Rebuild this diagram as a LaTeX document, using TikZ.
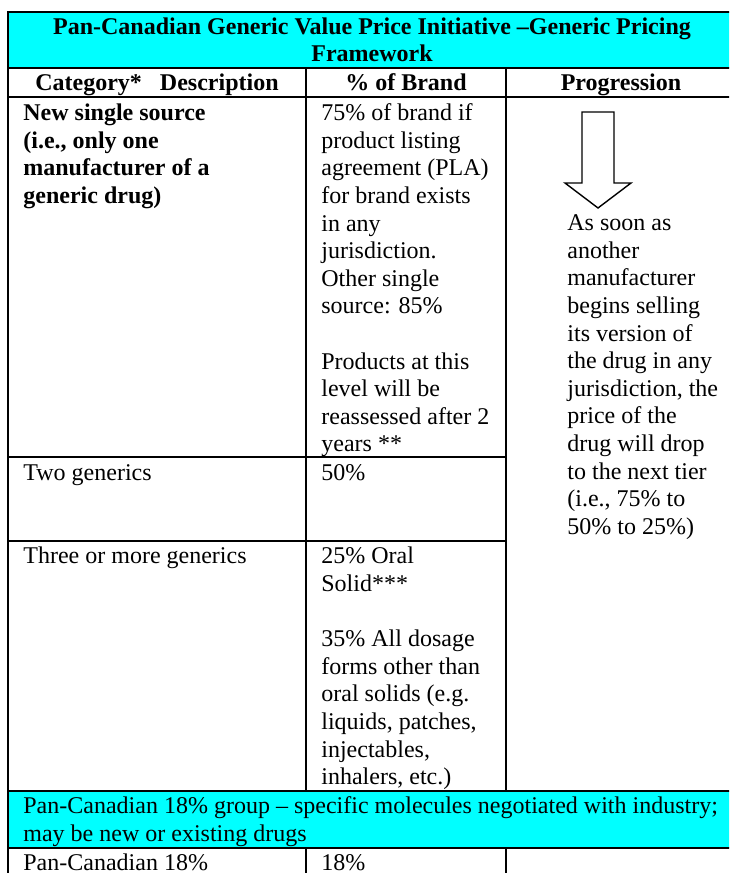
\documentclass[tikz,border=0pt]{standalone}
\usepackage{fontspec}
\setmainfont{Liberation Serif}
\definecolor{hdrcyan}{RGB}{0,255,255}
\tikzset{
  rule/.style={line width=1.2pt, line cap=rect},
  celltxt/.style={anchor=base west, inner sep=0pt, align=left,
    font=\fontsize{12}{13.8}\selectfont},
  boldtxt/.style={celltxt, font=\fontsize{12}{13.8}\selectfont\bfseries},
  headtxt/.style={anchor=base, inner sep=0pt, align=center,
    font=\fontsize{12}{13.8}\selectfont\bfseries},
  blockarrow/.style={draw, line width=0.7pt, line join=miter}
}

\begin{document}
\begin{tikzpicture}[x=0.5pt, y=-0.5pt]
  \clip (0,0) rectangle (729,873);
  % cyan bands
  \fill[hdrcyan] (8,12) rectangle (736,68);
  \fill[hdrcyan] (8,791) rectangle (736,848);
  % title and headers (multi-line nodes sit on their last baseline)
  \node[headtxt] (title) at (372,61.6) {Pan-Canadian Generic Value Price Initiative –Generic Pricing\\Framework};
  \node[headtxt] (hdrcat) at (157,90) {Category*\ \ \ Description};
  \node[headtxt] (hdrpct) at (406,90) {\% of Brand};
  \node[headtxt] (hdrprog) at (621,90) {Progression};
  % single source row
  \node[boldtxt] (newsrc) at (23,203.5) {New single source\\(i.e., only one\\manufacturer of a\\generic drug)};
  \node[celltxt] (newpct) at (321,451.9) {75\% of brand if\\product listing\\agreement (PLA)\\for brand exists\\in any\\jurisdiction.\\Other single\\source: 85\%\\[13.8pt]Products at this\\level will be\\reassessed after 2\\years **};
  % progression column
  \draw[blockarrow] (582,112) -- (614,112) -- (614,183) -- (631,183)
    -- (598,208) -- (565,183) -- (582,183) -- cycle;
  \node[celltxt] (progtxt) at (567,534.2) {As soon as\\another\\manufacturer\\begins selling\\its version of\\the drug in any\\jurisdiction, the\\price of the\\drug will drop\\to the next tier\\(i.e., 75\% to\\50\% to 25\%)};
  % generics rows
  \node[celltxt] (twogen) at (23,480) {Two generics};
  \node[celltxt] (twopct) at (321,480) {50\%};
  \node[celltxt] (threegen) at (23,563.8) {Three or more generics};
  \node[celltxt] (threepct) at (321,784.6) {25\% Oral\\Solid***\\[13.8pt]35\% All dosage\\forms other than\\oral solids (e.g.\\liquids, patches,\\injectables,\\inhalers, etc.)};
  % 18% group
  \node[celltxt] (grouptxt) at (23,841) {Pan-Canadian 18\% group – specific molecules negotiated with industry;\\may be new or existing drugs};
  \node[celltxt] (pcrow) at (23,870.4) {Pan-Canadian 18\%};
  \node[celltxt] (pcpct) at (321,870.4) {18\%};
  % table rules
  \draw[rule] (8,12) -- (736,12);
  \draw[rule] (8,68) -- (736,68);
  \draw[rule] (8,97) -- (736,97);
  \draw[rule] (8,457) -- (506,457);
  \draw[rule] (8,541) -- (506,541);
  \draw[rule] (8,791) -- (736,791);
  \draw[rule] (8,848) -- (736,848);
  \draw[rule] (8,12) -- (8,880);
  \draw[rule] (736,12) -- (736,880);
  \draw[rule] (306,68) -- (306,791);
  \draw[rule] (506,68) -- (506,791);
  \draw[rule] (306,848) -- (306,880);
  \draw[rule] (506,848) -- (506,880);
\end{tikzpicture}
\end{document}
